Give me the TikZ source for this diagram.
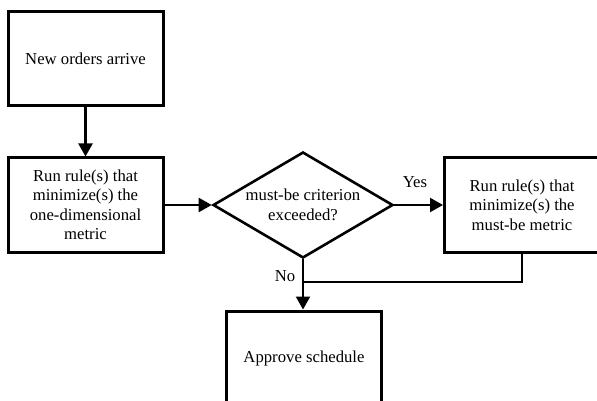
\documentclass[tikz,border=0pt]{standalone}
\usepackage{fontspec}
\setmainfont{Liberation Serif}
\usetikzlibrary{arrows.meta,shapes.geometric}
\begin{document}
\begin{tikzpicture}[x=1pt,y=1pt,
  font=\fontsize{16.7}{19.5}\selectfont,
  box/.style={draw,line width=3pt,minimum width=155pt,minimum height=94pt,inner sep=0pt,align=center,fill=white},
  dec/.style={draw,diamond,line width=2.6pt,minimum width=180pt,minimum height=106pt,inner sep=0pt,align=center,aspect=1.7},
  conn/.style={line width=2.2pt,-{Triangle[length=13pt,width=14pt]}},
  ret/.style={line width=1.6pt},
  lbl/.style={inner sep=0pt}]
\useasboundingbox (0,0) rectangle (597,-401);
\clip (0,0) rectangle (597,-401);
\node[box] (b1) at (85.5,-59) {New orders arrive};
\node[box] (b2) at (85.5,-205) {Run rule(s) that\\minimize(s) the\\one-dimensional\\metric};
\node[dec] (d) at (303,-205) {must-be criterion\\exceeded?};
\node[box] (b3) at (522,-205) {Run rule(s) that\\minimize(s) the\\must-be metric};
\node[box] (b4) at (304,-358) {Approve schedule};
\coordinate (j) at (303,-282);
\draw[conn] (b1.south) -- (b2.north);
\draw[conn] (b2.east) -- (d.west);
\draw[conn] (d.east) -- (b3.west);
\draw[conn] (d.south) -- (d.south |- b4.north);
\draw[ret] (b3.south) |- (j);
\node[lbl] (yes) at (415,-182) {Yes};
\node[lbl] (no) at (285,-276) {No};
\end{tikzpicture}
\end{document}
